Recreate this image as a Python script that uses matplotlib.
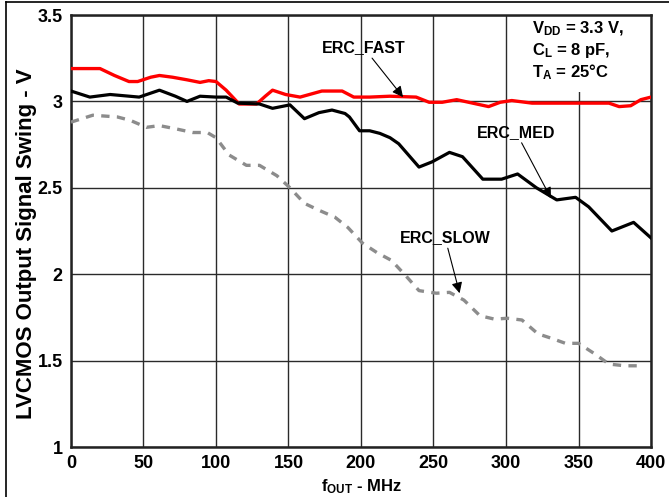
import numpy as np
import matplotlib
matplotlib.use("Agg")
import matplotlib.pyplot as plt
from matplotlib.patches import Rectangle
from matplotlib.lines import Line2D

plt.rcParams['font.family'] = ['Liberation Sans', 'DejaVu Sans']
plt.rcParams['font.weight'] = 'bold'
plt.rcParams['mathtext.fontset'] = 'custom'
plt.rcParams['mathtext.rm'] = 'Liberation Sans:bold'
plt.rcParams['mathtext.bf'] = 'Liberation Sans:bold'
plt.rcParams['mathtext.default'] = 'bf'

# ERC_FAST
fast_f = [0, 20, 30, 40, 46, 55, 61, 70, 80, 89, 95, 100, 107, 116, 128, 134, 139,
          148, 158, 173, 187, 195, 206, 220, 238, 247, 256, 266, 277, 288, 296, 304,
          318, 340, 360, 371, 378, 386, 393, 400]
fast_v = [3.19, 3.19, 3.15, 3.115, 3.115, 3.14, 3.15, 3.14, 3.125, 3.11, 3.12, 3.115,
          3.065, 2.985, 2.985, 3.03, 3.065, 3.04, 3.025, 3.06, 3.06, 3.025, 3.025, 3.03,
          3.025, 2.995, 2.995, 3.01, 2.99, 2.97, 2.995, 3.005, 2.99, 2.99, 2.99, 2.99,
          2.97, 2.975, 3.01, 3.025]

# ERC_MED
med_f = [0, 13, 27, 47, 61, 72, 80, 89, 100, 107, 115, 130, 139, 151, 161, 171, 180,
         189, 192, 199, 206, 213, 220, 226, 240, 249, 261, 270, 284, 297, 308, 321,
         335, 348, 357, 373, 388, 400]
med_v = [3.06, 3.025, 3.04, 3.025, 3.065, 3.03, 3.0, 3.03, 3.025, 3.025, 2.99, 2.985,
         2.96, 2.98, 2.9, 2.935, 2.95, 2.93, 2.91, 2.83, 2.83, 2.815, 2.79, 2.755, 2.62,
         2.65, 2.705, 2.68, 2.55, 2.55, 2.58, 2.5, 2.43, 2.445, 2.39, 2.25, 2.3, 2.21]

# ERC_SLOW
slow_f = [0, 15, 32, 41, 52, 61, 73, 84, 94, 100, 109, 121, 130, 142, 151, 161, 171,
          182, 191, 201, 211, 221, 231, 240, 252, 261, 271, 282, 292, 301, 311, 322,
          331, 341, 350, 361, 371, 382, 392]
slow_v = [2.88, 2.92, 2.91, 2.89, 2.85, 2.86, 2.84, 2.82, 2.82, 2.79, 2.69, 2.63, 2.63,
          2.57, 2.5, 2.41, 2.37, 2.33, 2.27, 2.18, 2.125, 2.08, 1.99, 1.905, 1.89, 1.895,
          1.85, 1.76, 1.74, 1.745, 1.735, 1.655, 1.63, 1.6, 1.6, 1.54, 1.48, 1.47, 1.47]

x_ticks = [0, 50, 100, 150, 200, 250, 300, 350, 400]
y_ticks = [1, 1.5, 2, 2.5, 3, 3.5]
y_tick_labels = ['1', '1.5', '2', '2.5', '3', '3.5']

fig = plt.figure(figsize=(6.69, 4.97), dpi=100)
ax = fig.add_axes([0.1061, 0.1006, 0.8670, 0.8692])

ax.plot(fast_f, fast_v, color='#ff0000', lw=2.4, zorder=3)
ax.plot(med_f, med_v, color='black', lw=2.3, zorder=3)
ax.plot(slow_f, slow_v, color='#8c8c8c', lw=2.4, dashes=(2.5, 2.2), zorder=3)

ax.set_xlim(0, 400)
ax.set_ylim(1, 3.5)
ax.set_xticks(x_ticks)
ax.set_yticks(y_ticks)
ax.set_yticklabels(y_tick_labels)
ax.tick_params(length=0, labelsize=13, pad=6)
ax.grid(True, color='#2a2a2a', lw=1.0)
ax.set_axisbelow(True)
for s in ax.spines.values():
    s.set_linewidth(1.8)
    s.set_color('#222222')

ax.set_xlabel(r'f$_{\mathregular{OUT}}$ - MHz', fontsize=12, fontweight='bold', va='center')
ax.set_ylabel('LVCMOS Output Signal Swing - V', fontsize=16, fontweight='bold', va='center')
ax.xaxis.set_label_coords(0.5, -0.0926)
ax.yaxis.set_label_coords(-0.0759, 0.47)

# white box behind the conditions
ax.add_patch(Rectangle((310, 3.055), 90, 0.445, facecolor='white', edgecolor='none', zorder=1))
ax.text(318, 3.396, r'V$_{\mathregular{DD}}$ = 3.3 V,', fontsize=12, va='baseline', zorder=4)
ax.text(318, 3.268, r'C$_{\mathregular{L}}$ = 8 pF,', fontsize=12, va='baseline', zorder=4)
ax.text(318, 3.14, r'T$_{\mathregular{A}}$ = 25°C', fontsize=12, va='baseline', zorder=4)

arrow = dict(arrowstyle='-|>', color='black', lw=0.8, mutation_scale=16, shrinkA=0, shrinkB=0)
ax.annotate('ERC_FAST', xy=(229, 3.025), xytext=(202, 3.31), fontsize=11.5,
            ha='center', va='center', arrowprops=arrow, zorder=4)
ax.annotate('ERC_MED', xy=(331, 2.44), xytext=(307, 2.82), fontsize=11.5,
            ha='center', va='center', arrowprops=arrow, zorder=4)
ax.annotate('ERC_SLOW', xy=(268, 1.89), xytext=(258, 2.21), fontsize=11.5,
            ha='center', va='center', arrowprops=arrow, zorder=4)

# outer frame (top and left edge)
fig.add_artist(Line2D([0.009, 1.0], [0.996, 0.996], color='black', lw=1.2))
fig.add_artist(Line2D([0.009, 0.009], [0.0, 0.996], color='black', lw=1.2))

fig.savefig('out.png', dpi=100)
